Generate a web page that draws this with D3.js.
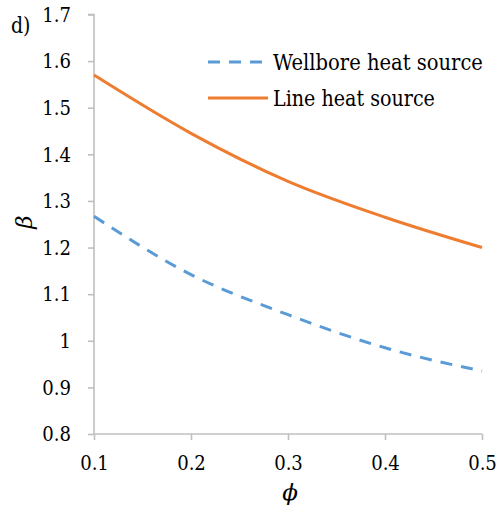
<!DOCTYPE html>
<html>
<head>
<meta charset="utf-8">
<script src="https://cdn.jsdelivr.net/npm/d3@7"></script>
<style>
  html, body { margin: 0; padding: 0; background: #fff; }
</style>
</head>
<body>
<svg id="chart" width="503" height="506"></svg>
<script>
// Porosity values along the x axis
const phi = [0.1, 0.2, 0.3, 0.4, 0.5];
// Beta for the wellbore heat source model
const wellbore = [1.267, 1.142, 1.056, 0.985, 0.935];
// Beta for the line heat source model
const lineSource = [1.570, 1.445, 1.342, 1.265, 1.200];
const xTicks = [0.1, 0.2, 0.3, 0.4, 0.5];
const yTicks = [0.8, 0.9, 1.0, 1.1, 1.2, 1.3, 1.4, 1.5, 1.6, 1.7];
const seriesNames = ["Wellbore heat source", "Line heat source"];

const serif = "DejaVu Serif";
const svg = d3.select("#chart").attr("font-family", serif);
const plotLeft = 94, plotRight = 482, plotTop = 14.5, plotBottom = 434;

const x = d3.scaleLinear().domain([0.1, 0.5]).range([plotLeft, plotRight]);
const y = d3.scaleLinear().domain([0.8, 1.7]).range([plotBottom, plotTop]);

const axisColor = "#bfbfbf";
const fmt = d => (d === 1 ? "1" : d3.format(".1f")(d));

// narrow a text element horizontally so the serif face keeps a Times-like width
function narrow(sel, factor) {
  sel.each(function () {
    const w = this.getComputedTextLength();
    d3.select(this).attr("textLength", w * factor).attr("lengthAdjust", "spacingAndGlyphs");
  });
}

// y axis
const yAxis = svg.append("g")
  .attr("transform", `translate(${plotLeft},0)`)
  .call(d3.axisLeft(y).tickValues(yTicks).tickFormat(fmt).tickSize(6).tickPadding(17));
// x axis
const xAxis = svg.append("g")
  .attr("transform", `translate(0,${plotBottom})`)
  .call(d3.axisBottom(x).tickValues(xTicks).tickFormat(d3.format(".1f")).tickSize(6).tickPadding(15));

[yAxis, xAxis].forEach(g => {
  g.attr("font-family", serif).attr("font-size", 21);
  g.select(".domain").attr("stroke", axisColor).attr("stroke-width", 1.6);
  g.selectAll(".tick line").attr("stroke", axisColor).attr("stroke-width", 1.6);
  g.selectAll(".tick text").attr("fill", "#000").call(narrow, 0.86);
});
yAxis.select(".domain").attr("d", `M0,${plotBottom}V${plotTop}H-6`);
xAxis.select(".domain").attr("d", `M${plotLeft},0H${plotRight}`);

// curves
const line = d3.line().x((d, i) => x(phi[i])).y(d => y(d)).curve(d3.curveMonotoneX);

svg.append("path").datum(lineSource)
  .attr("d", line).attr("fill", "none")
  .attr("stroke", "#ED7D31").attr("stroke-width", 3);

svg.append("path").datum(wellbore)
  .attr("d", line).attr("fill", "none")
  .attr("stroke", "#5B9BD5").attr("stroke-width", 3)
  .attr("stroke-dasharray", "12,9");

// legend: each label is squeezed horizontally to its target width with a transform
const legend = svg.append("g");
const legendRows = [
  { name: seriesNames[0], color: "#5B9BD5", dash: "12,9", y: 62, width: 210 },
  { name: seriesNames[1], color: "#ED7D31", dash: null, y: 98, width: 162 }
];
legendRows.forEach(r => {
  legend.append("line")
    .attr("x1", 208).attr("x2", 268).attr("y1", r.y).attr("y2", r.y)
    .attr("stroke", r.color).attr("stroke-width", 3)
    .attr("stroke-dasharray", r.dash);
  const t = legend.append("text")
    .attr("x", 0).attr("y", 0)
    .attr("font-size", 22)
    .text(r.name);
  const sx = r.width / t.node().getComputedTextLength();
  t.attr("transform", `translate(273,${r.y + 8}) scale(${sx},1)`);
});

// panel label and axis titles
svg.append("text").attr("x", 11).attr("y", 33).attr("font-size", 22).text("d)")
  .call(narrow, 0.86);
svg.append("text")
  .attr("transform", "translate(32,222) rotate(-90)")
  .attr("text-anchor", "middle")
  .attr("font-size", 23).attr("font-style", "italic")
  .text("β");
svg.append("text")
  .attr("x", 290).attr("y", 500)
  .attr("text-anchor", "middle")
  .attr("font-size", 23).attr("font-style", "italic")
  .text("ϕ");
</script>
</body>
</html>
